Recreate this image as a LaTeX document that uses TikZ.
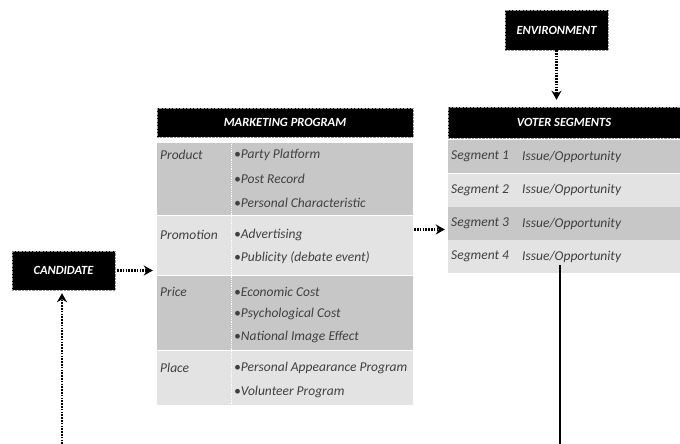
\documentclass[tikz,border=0pt]{standalone}
\usepackage{fontspec}
\setmainfont{Carlito}
\usepackage{tikz}
\usetikzlibrary{arrows.meta,calc}
\tikzstyle{headbox}=[rectangle,fill=black,draw=black!40,densely dotted,text=white,inner sep=0pt,font=\fontsize{12.5}{14}\selectfont\bfseries\itshape]
\tikzstyle{darkrow}=[rectangle,fill=black!22,inner sep=0pt]
\tikzstyle{lightrow}=[rectangle,fill=black!11,inner sep=0pt]
\tikzstyle{itemtext}=[anchor=west,inner sep=0pt,text=black!75,font=\fontsize{13.5}{15}\selectfont\itshape]
\tikzstyle{dotarrow}=[draw,line width=2.2pt,dash pattern=on 1.6pt off 1.2pt,-{Stealth[length=9pt,width=10pt]}]
\tikzstyle{divline}=[draw=white,densely dotted,line width=0.8pt]

\begin{document}
\begin{tikzpicture}[x=1pt,y=-1pt]

  \useasboundingbox (0,0) rectangle (680,444);

% Marketing program
  \node[headbox,minimum width=256pt,minimum height=29pt] (mphead) at (285,122.5) {MARKETING PROGRAM};
  \foreach \name/\style/\ypos/\h in {product/darkrow/178.5/72, promotion/lightrow/245/59, price/darkrow/312.5/74, place/lightrow/377.5/54}
    \node[\style,minimum width=256pt,minimum height=\h pt] (\name) at (285,\ypos) {};

  \coordinate (mpdiv) at (231,0);
  \draw[divline] (product.north -| mpdiv) -- (place.south -| mpdiv);

  \foreach \name/\ypos/\txt in {pr/155/Product, pm/235/Promotion, pc/292/Price, pl/368/Place}
    \node[itemtext] (\name) at (160,\ypos) {\txt};

  \foreach \name/\ypos/\txt in {i1/155/{Party Platform}, i2/179/{Post Record}, i3/203/{Personal Characteristic},
      i4/235/{Advertising}, i5/258/{Publicity (debate event)},
      i6/292/{Economic Cost}, i7/314/{Psychological Cost}, i8/337/{National Image Effect},
      i9/368/{Personal Appearance Program}, i10/392/{Volunteer Program}}
    \node[itemtext] (\name) at (234,\ypos) {\textbullet\txt};

% Voter segments
  \node[headbox,minimum width=232pt,minimum height=31pt] (vshead) at (564,122.5) {VOTER SEGMENTS};
  \foreach \name/\style/\ypos/\n in {seg1/darkrow/156.5/1, seg2/lightrow/190/2, seg3/darkrow/223.5/3, seg4/lightrow/256.5/4}
  {
    \node[\style,minimum width=232pt,minimum height=33pt] (\name) at (564,\ypos) {};
    \node[itemtext] (\name name) at (451,\ypos) {Segment \n};
    \node[itemtext] (\name issue) at (522,\ypos) {Issue/Opportunity};
  }

% Other boxes
  \node[headbox,minimum width=103pt,minimum height=40pt] (env) at (556.5,30) {ENVIRONMENT};
  \node[headbox,minimum width=103pt,minimum height=39pt] (cand) at (63.5,270.5) {CANDIDATE};

% Arrows
  \coordinate (candfoot) at (62,444);
  \coordinate (segfoot) at (560,444);

  \path[dotarrow,shorten >=7pt] (env.south) -- (env.south |- vshead.north);
  \path[dotarrow,shorten <=2pt,shorten >=4pt] (cand.east) -- (cand.east -| product.west);
  \path[dotarrow,shorten <=1pt,shorten >=3pt] ([yshift=-6pt]seg3.west -| promotion.east) -- ([yshift=-6pt]seg3.west);
  \path[dotarrow,shorten >=3pt] (candfoot) -- (candfoot |- cand.south);
  \draw[line width=1.5pt] ([yshift=8pt]segfoot |- seg4.south) -- (segfoot);

\end{tikzpicture}
\end{document}
